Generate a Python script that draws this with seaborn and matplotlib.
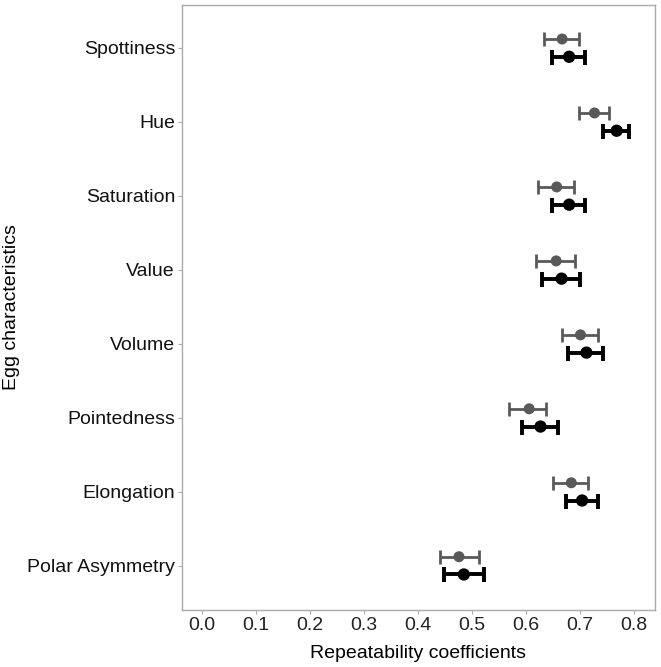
import numpy as np
import pandas as pd
import matplotlib
matplotlib.use("Agg")
import matplotlib.pyplot as plt
import seaborn as sns

traits = ["Spottiness", "Hue", "Saturation", "Value", "Volume",
          "Pointedness", "Elongation", "Polar Asymmetry"]

# grey series (upper point in each pair)
grey_est = [0.667, 0.727, 0.657, 0.656, 0.701, 0.606, 0.684, 0.476]
grey_lo = [0.633, 0.698, 0.623, 0.619, 0.667, 0.569, 0.651, 0.440]
grey_hi = [0.698, 0.754, 0.689, 0.690, 0.733, 0.638, 0.715, 0.513]

# black series (lower point in each pair)
black_est = [0.680, 0.768, 0.680, 0.666, 0.712, 0.627, 0.704, 0.485]
black_lo = [0.648, 0.743, 0.649, 0.630, 0.678, 0.593, 0.674, 0.448]
black_hi = [0.709, 0.791, 0.710, 0.701, 0.743, 0.659, 0.733, 0.522]

xticks = [0.0, 0.1, 0.2, 0.3, 0.4, 0.5, 0.6, 0.7, 0.8]

sns.set_theme(style="white")
plt.rcParams["font.family"] = ["Liberation Sans", "DejaVu Sans"]

fig = plt.figure(figsize=(6.61, 6.67), dpi=100)
ax = fig.add_axes([0.2753, 0.0855, 0.7156, 0.907])

pos = np.arange(len(traits))
series = [
    ("grey", grey_est, grey_lo, grey_hi, "#595959", -0.12, 2.0, 5.0, 11.0),
    ("black", black_est, black_lo, black_hi, "#000000", 0.12, 2.8, 5.4, 12.3),
]
for name, est, lo, hi, col, off, lw, cap, msz in series:
    est = np.array(est); lo = np.array(lo); hi = np.array(hi)
    y = pos + off
    ax.errorbar(est, y, xerr=[est - lo, hi - est], fmt="none", ecolor=col,
                elinewidth=lw, capsize=cap, capthick=lw, zorder=2)
    df = pd.DataFrame({"est": est, "y": y})
    sns.scatterplot(data=df, x="est", y="y", color=col, s=(msz * 0.72) ** 2,
                    edgecolor="none", ax=ax, zorder=3)

ax.set_xlim(-0.037, 0.839)
ax.set_ylim(len(traits) - 0.4, -0.58)
ax.set_yticks(pos)
ax.set_yticklabels(traits, fontsize=14, color="#111111")
ax.set_xticks(xticks)
ax.set_xticklabels([f"{t:.1f}" for t in xticks], fontsize=14, color="#222222")
ax.set_xlabel("Repeatability coefficients", fontsize=14, color="black")
ax.set_ylabel("Egg characteristics", fontsize=14, color="black")
ax.xaxis.set_label_coords(0.5, -0.058)
ax.yaxis.set_label_coords(-0.342, 0.5)
ax.tick_params(axis="both", which="both", length=3, width=0.8, color="#aaaaaa",
               direction="out", left=True, bottom=True, pad=2)
for sp in ax.spines.values():
    sp.set_color("#aaaaaa")
    sp.set_linewidth(1.0)
ax.grid(False)

fig.savefig("out.png", dpi=100)
